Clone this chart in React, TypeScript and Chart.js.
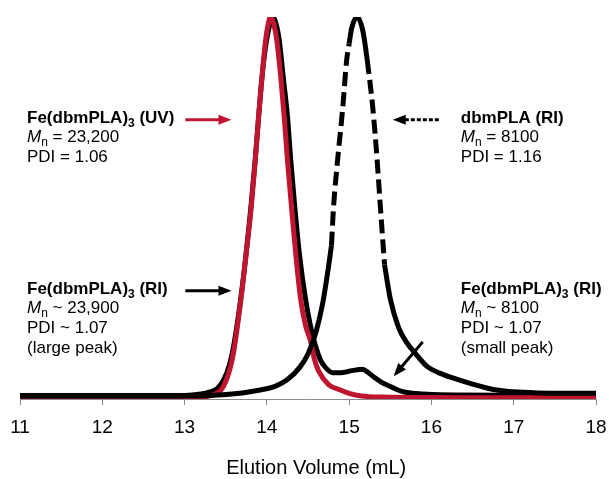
import React, { useEffect, useRef } from 'react';
import { Chart, registerables } from 'chart.js';

Chart.register(...registerables);

// Elution volume (mL) / normalized detector response
const uvX = [11, 12, 13, 13.2, 13.3, 13.4, 13.47, 13.55, 13.6, 13.7, 13.76, 13.81, 13.86, 13.9, 13.94, 13.98, 14.01, 14.045, 14.08, 14.12, 14.17, 14.21, 14.25, 14.3, 14.35, 14.41, 14.47, 14.53, 14.58, 14.63, 14.75, 14.9, 15.0, 15.15, 15.4, 16, 17, 18];
const uvY = [0, 0, 0, 0.002, 0.005, 0.013, 0.029, 0.075, 0.125, 0.285, 0.4, 0.5, 0.625, 0.74, 0.84, 0.93, 0.975, 1.0, 0.985, 0.94, 0.84, 0.74, 0.625, 0.5, 0.38, 0.26, 0.19, 0.15, 0.1, 0.07, 0.035, 0.02, 0.012, 0.005, 0.002, 0.001, 0, 0];

const feRiX = [11, 12, 13, 13.2, 13.3, 13.4, 13.47, 13.55, 13.6, 13.7, 13.81, 13.86, 13.94, 13.99, 14.03, 14.065, 14.1, 14.15, 14.2, 14.25, 14.29, 14.34, 14.4, 14.47, 14.55, 14.65, 14.72, 14.8, 14.9, 15.0, 15.1, 15.16, 15.22, 15.3, 15.4, 15.5, 15.6, 15.7, 15.9, 16.1, 17, 18];
const feRiY = [0.006, 0.006, 0.006, 0.01, 0.015, 0.025, 0.045, 0.09, 0.14, 0.29, 0.51, 0.63, 0.84, 0.93, 0.975, 1.0, 0.99, 0.94, 0.84, 0.74, 0.625, 0.5, 0.37, 0.26, 0.17, 0.1, 0.078, 0.066, 0.066, 0.07, 0.074, 0.075, 0.068, 0.055, 0.04, 0.03, 0.02, 0.014, 0.01, 0.008, 0.007, 0.007];

const dbmX = [11, 12, 13, 13.3, 13.7, 13.9, 14.1, 14.25, 14.4, 14.5, 14.6, 14.68, 14.75, 14.785, 14.81, 14.86, 14.92, 14.97, 15.0, 15.03, 15.1, 15.17, 15.22, 15.29, 15.34, 15.38, 15.41, 15.43, 15.5, 15.6, 15.7, 15.8, 15.95, 16.1, 16.25, 16.5, 16.75, 17, 17.3, 17.6, 18];
const dbmY = [0.005, 0.005, 0.005, 0.006, 0.013, 0.02, 0.03, 0.048, 0.08, 0.115, 0.175, 0.25, 0.345, 0.4, 0.5, 0.625, 0.756, 0.887, 0.93, 0.97, 1.0, 0.96, 0.887, 0.756, 0.625, 0.5, 0.41, 0.35, 0.26, 0.185, 0.145, 0.118, 0.082, 0.065, 0.053, 0.036, 0.022, 0.016, 0.013, 0.012, 0.012];
// index ranges of the dbmPLA trace that are drawn dashed
const dbmDashed = [
  [13, 18],
  [22, 27],
];

const xTicks = [11, 12, 13, 14, 15, 16, 17, 18];
const xTitle = 'Elution Volume (mL)';
const xTitleAt = 14.6;

const RED = '#C01530';
const BLACK = '#000000';
const FONT = '"Liberation Sans", Arial, Helvetica, sans-serif';

type Run = { t: string; s?: 'b' | 'i' | 'sub' | 'subb' };

const uvLines: Run[][] = [
  [{ t: 'Fe(dbmPLA)', s: 'b' }, { t: '3', s: 'subb' }, { t: ' (UV)', s: 'b' }],
  [{ t: 'M', s: 'i' }, { t: 'n', s: 'sub' }, { t: ' = 23,200' }],
  [{ t: 'PDI = 1.06' }],
];
const dbmLines: Run[][] = [
  [{ t: 'dbmPLA (RI)', s: 'b' }],
  [{ t: 'M', s: 'i' }, { t: 'n', s: 'sub' }, { t: ' = 8100' }],
  [{ t: 'PDI = 1.16' }],
];
const largeLines: Run[][] = [
  [{ t: 'Fe(dbmPLA)', s: 'b' }, { t: '3', s: 'subb' }, { t: ' (RI)', s: 'b' }],
  [{ t: 'M', s: 'i' }, { t: 'n', s: 'sub' }, { t: ' ~ 23,900' }],
  [{ t: 'PDI ~ 1.07' }],
  [{ t: '(large peak)' }],
];
const smallLines: Run[][] = [
  [{ t: 'Fe(dbmPLA)', s: 'b' }, { t: '3', s: 'subb' }, { t: ' (RI)', s: 'b' }],
  [{ t: 'M', s: 'i' }, { t: 'n', s: 'sub' }, { t: ' ~ 8100' }],
  [{ t: 'PDI ~ 1.07' }],
  [{ t: '(small peak)' }],
];

// text blocks anchored in data coordinates (x = mL, y = response)
const blocks = [
  { x: 11.085, y: 0.722, lines: uvLines },
  { x: 16.357, y: 0.722, lines: dbmLines },
  { x: 11.085, y: 0.273, lines: largeLines },
  { x: 16.357, y: 0.273, lines: smallLines },
];

// arrows in data coordinates
const arrows = [
  { x1: 13.01, y1: 0.73, x2: 13.57, y2: 0.73, color: RED, dash: [] as number[] },
  { x1: 16.09, y1: 0.73, x2: 15.53, y2: 0.73, color: BLACK, dash: [4, 2] },
  { x1: 13.01, y1: 0.281, x2: 13.57, y2: 0.281, color: BLACK, dash: [] as number[] },
  { x1: 15.894, y1: 0.147, x2: 15.541, y2: 0.057, color: BLACK, dash: [] as number[] },
];

const SIZE = 17;
const SUB = 12;
const LINE_GAP = 19.6;

function fontFor(s?: string) {
  if (s === 'b') return `bold ${SIZE}px ${FONT}`;
  if (s === 'i') return `italic ${SIZE}px ${FONT}`;
  if (s === 'sub') return `${SUB}px ${FONT}`;
  if (s === 'subb') return `bold ${SUB}px ${FONT}`;
  return `${SIZE}px ${FONT}`;
}

const annotPlugin = {
  id: 'annot',
  afterDatasetsDraw(chart: any) {
    const { ctx, scales } = chart;
    const xs = scales.x;
    const ys = scales.y;
    ctx.save();
    ctx.fillStyle = '#000';
    ctx.textBaseline = 'alphabetic';
    ctx.textAlign = 'left';
    for (const b of blocks) {
      const px0 = xs.getPixelForValue(b.x);
      let py = ys.getPixelForValue(b.y);
      for (const line of b.lines) {
        let px = px0;
        for (const r of line) {
          ctx.font = fontFor(r.s);
          const off = r.s === 'sub' || r.s === 'subb' ? 4 : 0;
          ctx.fillText(r.t, px, py + off);
          px += ctx.measureText(r.t).width;
        }
        py += LINE_GAP;
      }
    }
    for (const a of arrows) {
      const x1 = xs.getPixelForValue(a.x1);
      const y1 = ys.getPixelForValue(a.y1);
      const x2 = xs.getPixelForValue(a.x2);
      const y2 = ys.getPixelForValue(a.y2);
      const ang = Math.atan2(y2 - y1, x2 - x1);
      const hl = 13;
      const hw = 5;
      const bx = x2 - hl * Math.cos(ang);
      const by = y2 - hl * Math.sin(ang);
      ctx.strokeStyle = a.color;
      ctx.fillStyle = a.color;
      ctx.lineWidth = 3;
      ctx.lineCap = 'butt';
      ctx.setLineDash(a.dash);
      ctx.beginPath();
      ctx.moveTo(x1, y1);
      ctx.lineTo(bx + 2 * Math.cos(ang), by + 2 * Math.sin(ang));
      ctx.stroke();
      ctx.setLineDash([]);
      ctx.beginPath();
      ctx.moveTo(x2, y2);
      ctx.lineTo(bx - hw * Math.sin(ang), by + hw * Math.cos(ang));
      ctx.lineTo(bx + hw * Math.sin(ang), by - hw * Math.cos(ang));
      ctx.closePath();
      ctx.fill();
    }
    // axis title
    ctx.font = `20px ${FONT}`;
    ctx.textAlign = 'center';
    ctx.textBaseline = 'middle';
    ctx.fillStyle = '#000';
    ctx.fillText(xTitle, xs.getPixelForValue(xTitleAt), chart.height - 11);
    ctx.restore();
  },
};

function pts(xs: number[], ys: number[], from = 0, to = xs.length - 1) {
  const out: { x: number; y: number }[] = [];
  for (let i = from; i <= to; i++) out.push({ x: xs[i], y: ys[i] });
  return out;
}

function dbmPieces() {
  const cuts: { from: number; to: number; dashed: boolean }[] = [];
  let cur = 0;
  for (const [a, b] of dbmDashed) {
    cuts.push({ from: cur, to: a, dashed: false });
    cuts.push({ from: a, to: b, dashed: true });
    cur = b;
  }
  cuts.push({ from: cur, to: dbmX.length - 1, dashed: false });
  return cuts.map((c) => ({
    label: 'dbmPLA (RI)',
    data: pts(dbmX, dbmY, c.from, c.to),
    borderColor: BLACK,
    borderWidth: 5,
    borderCapStyle: 'butt' as const,
    borderDash: c.dashed ? [14, 6] : [],
    pointRadius: 0,
    cubicInterpolationMode: 'monotone' as const,
    order: 0,
  }));
}

export default function App() {
  const ref = useRef<HTMLCanvasElement>(null);
  useEffect(() => {
    const canvas = ref.current;
    if (!canvas) return;
    const chart = new Chart(canvas, {
      type: 'line',
      data: {
        datasets: [
          ...dbmPieces(),
          {
            label: 'Fe(dbmPLA)3 (UV)',
            data: pts(uvX, uvY),
            borderColor: RED,
            borderWidth: 5,
            pointRadius: 0,
            cubicInterpolationMode: 'monotone',
            order: 1,
          },
          {
            label: 'Fe(dbmPLA)3 (RI)',
            data: pts(feRiX, feRiY),
            borderColor: BLACK,
            borderWidth: 5,
            pointRadius: 0,
            cubicInterpolationMode: 'monotone',
            order: 2,
          },
        ],
      },
      options: {
        animation: false,
        responsive: false,
        maintainAspectRatio: false,
        layout: { padding: { left: 20, right: 13, top: 17, bottom: 0 } },
        plugins: { legend: { display: false }, tooltip: { enabled: false } },
        scales: {
          x: {
            type: 'linear',
            min: 11,
            max: 18,
            afterBuildTicks: (s: any) => {
              s.ticks = xTicks.map((v) => ({ value: v }));
            },
            afterFit: (s: any) => {
              s.height = 80;
              s.paddingLeft = 0;
              s.paddingRight = 0;
            },
            ticks: {
              color: '#000',
              font: { family: FONT, size: 19 },
              padding: 11,
              maxRotation: 0,
              autoSkip: false,
            },
            grid: { drawOnChartArea: false, color: '#8a8a8a', tickLength: 6, lineWidth: 1 },
            border: { display: true, color: '#8a8a8a', width: 1 },
            title: { display: false },
          },
          y: {
            display: false,
            min: -0.003,
            max: 1,
          },
        },
      },
      plugins: [annotPlugin],
    });
    return () => chart.destroy();
  }, []);
  return (
    <div style={{ position: 'fixed', left: 0, top: 0, width: 609, height: 479, background: '#fff' }}>
      <canvas ref={ref} width={609} height={479} />
    </div>
  );
}
